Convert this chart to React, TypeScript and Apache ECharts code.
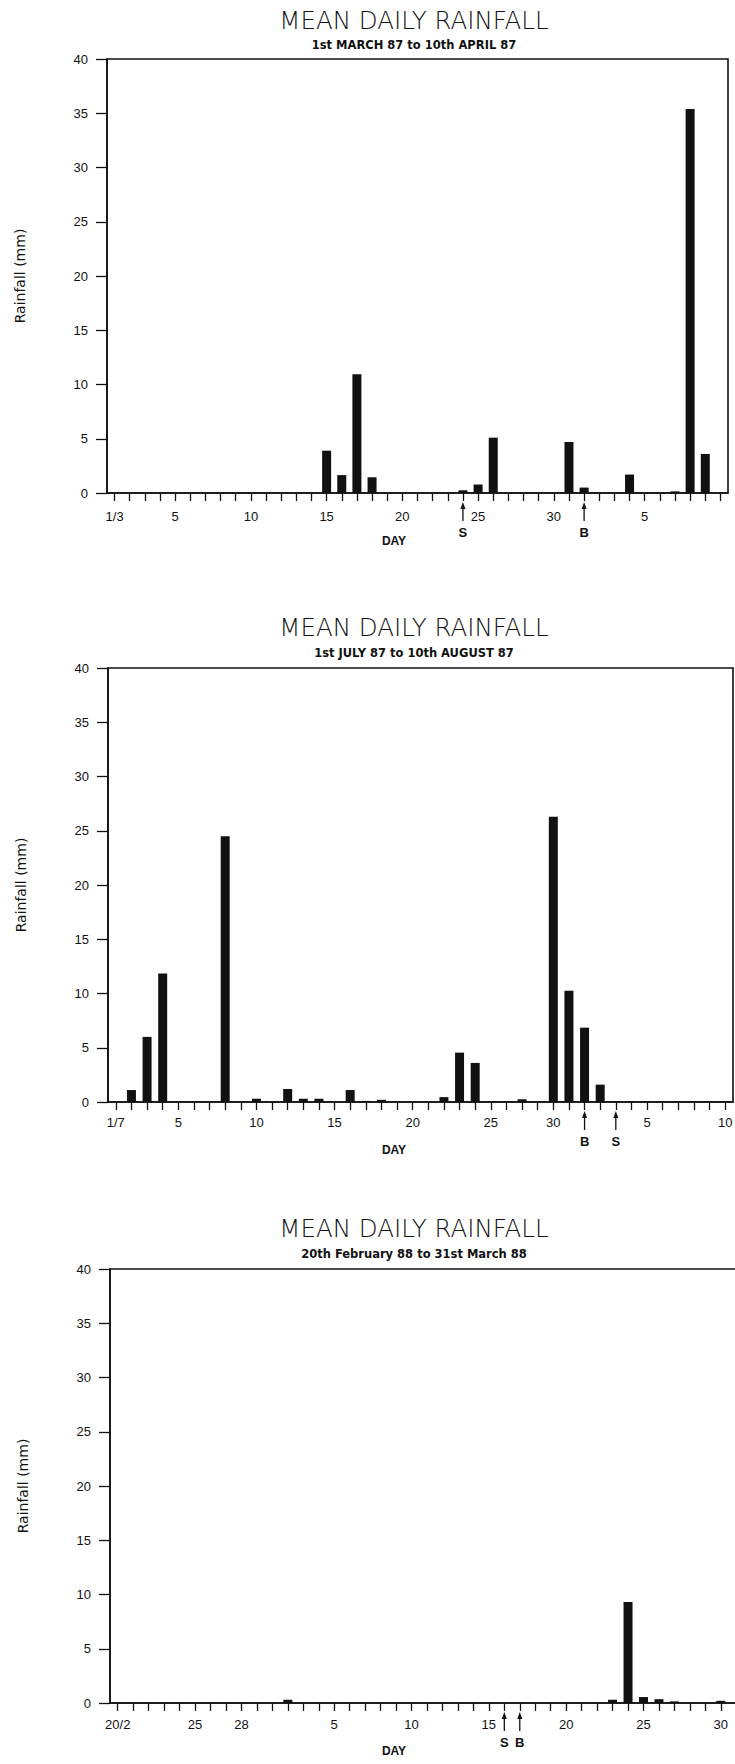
import React, { useEffect, useRef } from "react";
import * as echarts from "echarts";

// ---------- DATA ----------
const catsMarApr87 = [
  "1 Mar", "2 Mar", "3 Mar", "4 Mar", "5 Mar", "6 Mar", "7 Mar", "8 Mar", "9 Mar", "10 Mar",
  "11 Mar", "12 Mar", "13 Mar", "14 Mar", "15 Mar", "16 Mar", "17 Mar", "18 Mar", "19 Mar", "20 Mar",
  "21 Mar", "22 Mar", "23 Mar", "24 Mar", "25 Mar", "26 Mar", "27 Mar", "28 Mar", "29 Mar", "30 Mar",
  "31 Mar", "1 Apr", "2 Apr", "3 Apr", "4 Apr", "5 Apr", "6 Apr", "7 Apr", "8 Apr", "9 Apr", "10 Apr",
];
const rainMarApr87 = [
  0, 0, 0, 0, 0, 0, 0, 0, 0, 0, 0, 0, 0, 0, 3.9, 1.65, 10.95, 1.45, 0, 0,
  0, 0, 0, 0.25, 0.78, 5.1, 0, 0, 0, 0, 4.7, 0.5, 0, 0, 1.7, 0, 0, 0.15, 35.4, 3.6, 0,
];
const tickCatsMarApr87 = ["1 Mar", "5 Mar", "10 Mar", "15 Mar", "20 Mar", "25 Mar", "30 Mar", "5 Apr"];
const tickTextMarApr87 = ["1/3", "5", "10", "15", "20", "25", "30", "5"];
const markerCatsMarApr87 = ["24 Mar", "1 Apr"];
const markerTextMarApr87 = ["S", "B"];

const catsJulAug87 = [
  "1 Jul", "2 Jul", "3 Jul", "4 Jul", "5 Jul", "6 Jul", "7 Jul", "8 Jul", "9 Jul", "10 Jul",
  "11 Jul", "12 Jul", "13 Jul", "14 Jul", "15 Jul", "16 Jul", "17 Jul", "18 Jul", "19 Jul", "20 Jul",
  "21 Jul", "22 Jul", "23 Jul", "24 Jul", "25 Jul", "26 Jul", "27 Jul", "28 Jul", "29 Jul", "30 Jul",
  "31 Jul", "1 Aug", "2 Aug", "3 Aug", "4 Aug", "5 Aug", "6 Aug", "7 Aug", "8 Aug", "9 Aug",
];
const rainJulAug87 = [
  0, 1.1, 6.0, 11.85, 0, 0, 0, 24.5, 0, 0.3, 0, 1.2, 0.3, 0.3, 0, 1.1, 0.1, 0.2, 0, 0,
  0, 0.45, 4.55, 3.6, 0.05, 0.05, 0.25, 0, 26.3, 10.25, 6.85, 1.6, 0.05, 0.05, 0.05, 0.05, 0.05, 0.05, 0.05, 0.05,
];
const tickCatsJulAug87 = ["1 Jul", "5 Jul", "10 Jul", "15 Jul", "20 Jul", "25 Jul", "29 Jul", "4 Aug", "9 Aug"];
const tickTextJulAug87 = ["1/7", "5", "10", "15", "20", "25", "30", "5", "10"];
const markerCatsJulAug87 = ["31 Jul", "2 Aug"];
const markerTextJulAug87 = ["B", "S"];

const catsFebMar88 = [
  "20 Feb", "21 Feb", "22 Feb", "23 Feb", "24 Feb", "25 Feb", "26 Feb", "27 Feb", "28 Feb", "29 Feb",
  "1 Mar", "2 Mar", "3 Mar", "4 Mar", "5 Mar", "6 Mar", "7 Mar", "8 Mar", "9 Mar", "10 Mar",
  "11 Mar", "12 Mar", "13 Mar", "14 Mar", "15 Mar", "16 Mar", "17 Mar", "18 Mar", "19 Mar", "20 Mar",
  "21 Mar", "22 Mar", "23 Mar", "24 Mar", "25 Mar", "26 Mar", "27 Mar", "28 Mar", "29 Mar", "30 Mar", "31 Mar",
];
const rainFebMar88 = [
  0, 0, 0, 0, 0, 0, 0, 0, 0, 0, 0, 0.3, 0, 0, 0, 0, 0, 0, 0, 0,
  0, 0, 0, 0, 0, 0, 0, 0, 0, 0, 0, 0, 0.3, 9.3, 0.55, 0.35, 0.15, 0, 0, 0.2, 0,
];
const tickCatsFebMar88 = ["20 Feb", "25 Feb", "28 Feb", "5 Mar", "10 Mar", "15 Mar", "20 Mar", "25 Mar", "30 Mar"];
const tickTextFebMar88 = ["20/2", "25", "28", "5", "10", "15", "20", "25", "30"];
const markerCatsFebMar88 = ["16 Mar", "17 Mar"];
const markerTextFebMar88 = ["S", "B"];

const yTicks = [0, 5, 10, 15, 20, 25, 30, 35, 40];

const titles = ["MEAN DAILY RAINFALL", "MEAN DAILY RAINFALL", "MEAN DAILY RAINFALL"];
const subtitles = [
  "1st MARCH 87 to 10th APRIL 87",
  "1st JULY 87 to 10th AUGUST 87",
  "20th February 88 to 31st March 88",
];

// ---------- LAYOUT ----------
const panels = [
  { cats: catsMarApr87, rain: rainMarApr87, tc: tickCatsMarApr87, tt: tickTextMarApr87, mc: markerCatsMarApr87, mt: markerTextMarApr87, left: 107, top: 59, width: 621, titleY: 20, subY: 45, labelMargin: 17 },
  { cats: catsJulAug87, rain: rainJulAug87, tc: tickCatsJulAug87, tt: tickTextJulAug87, mc: markerCatsJulAug87, mt: markerTextJulAug87, left: 108, top: 668, width: 625, titleY: 627, subY: 653, labelMargin: 14 },
  { cats: catsFebMar88, rain: rainFebMar88, tc: tickCatsFebMar88, tt: tickTextFebMar88, mc: markerCatsFebMar88, mt: markerTextFebMar88, left: 110, top: 1269, width: 634, titleY: 1228, subY: 1254, labelMargin: 15 },
];
const PLOT_H = 434;
const TITLE_X = 414;
const INK = "#111";
const FONT = "Liberation Sans";

export default function App() {
  const ref = useRef<HTMLDivElement>(null);
  useEffect(() => {
    if (!ref.current) return;
    const chart = echarts.init(ref.current, null, { renderer: "svg" });
    const option: any = {
      animation: false,
      backgroundColor: "#fff",
      textStyle: { fontFamily: FONT, color: INK },
      grid: panels.map((p) => ({
        left: p.left,
        top: p.top,
        width: p.width,
        height: PLOT_H,
        show: true,
        borderColor: INK,
        borderWidth: 1.6,
        backgroundColor: "transparent",
        outerBoundsMode: "none",
        containLabel: false,
      })),
      xAxis: panels.map((p, i) => ({
        type: "category",
        gridIndex: i,
        data: p.cats,
        boundaryGap: true,
        axisLine: { show: true, lineStyle: { color: INK, width: 1.6 } },
        axisTick: { show: true, alignWithLabel: true, interval: 0, length: 8, inside: false, lineStyle: { color: INK, width: 1.3 } },
        axisLabel: {
          interval: 0,
          margin: p.labelMargin,
          fontSize: 13,
          fontFamily: FONT,
          color: INK,
          hideOverlap: false,
          formatter: (v: string) => {
            const k = p.tc.indexOf(v);
            return k >= 0 ? p.tt[k] : "";
          },
        },
        splitLine: { show: false },
      })),
      yAxis: panels.map((p, i) => ({
        type: "value",
        gridIndex: i,
        min: yTicks[0],
        max: yTicks[yTicks.length - 1],
        interval: 5,
        name: "Rainfall (mm)",
        nameLocation: "middle",
        nameRotate: 90,
        nameGap: 80,
        nameTextStyle: { fontSize: 14, fontFamily: "DejaVu Sans", color: INK },
        axisLine: { show: true, lineStyle: { color: INK, width: 1.6 } },
        axisTick: { show: true, length: 11, inside: false, lineStyle: { color: INK, width: 1.3 } },
        axisLabel: { margin: 19, fontSize: 13, fontFamily: FONT, color: INK },
        splitLine: { show: false },
      })),
      series: panels.map((p, i) => ({
        type: "bar",
        xAxisIndex: i,
        yAxisIndex: i,
        data: p.rain,
        barWidth: 9,
        silent: true,
        itemStyle: { color: INK },
      })),
    };
    chart.setOption(option);

    const g: any[] = [];
    panels.forEach((p, i) => {
      g.push({
        type: "text",
        x: TITLE_X,
        y: p.titleY,
        style: { text: titles[i], fontSize: 24.5, fontFamily: "DejaVu Sans", fontWeight: 200, fill: INK, align: "center", verticalAlign: "middle" },
      });
      g.push({
        type: "text",
        x: TITLE_X,
        y: p.subY,
        style: { text: subtitles[i], fontSize: 11.5, fontFamily: "DejaVu Sans", fontWeight: "bold", fill: INK, align: "center", verticalAlign: "middle" },
      });
      const base = chart.convertToPixel({ yAxisIndex: i } as any, 0) as number;
      g.push({
        type: "text",
        x: 394,
        y: base + 48,
        style: { text: "DAY", fontSize: 12, fontFamily: FONT, fontWeight: "bold", fill: INK, align: "center", verticalAlign: "middle" },
      });
      p.mc.forEach((c, k) => {
        const x = chart.convertToPixel({ xAxisIndex: i } as any, c) as number;
        g.push({
          type: "line",
          shape: { x1: x, y1: base + 13, x2: x, y2: base + 28 },
          style: { stroke: INK, lineWidth: 1.3 },
        });
        g.push({
          type: "polygon",
          shape: { points: [[x, base + 9], [x - 2.5, base + 16], [x + 2.5, base + 16]] },
          style: { fill: INK },
        });
        g.push({
          type: "text",
          x: x,
          y: base + 39,
          style: { text: p.mt[k], fontSize: 13, fontFamily: FONT, fontWeight: "bold", fill: INK, align: "center", verticalAlign: "middle" },
        });
      });
    });
    chart.setOption({ graphic: g });

    return () => chart.dispose();
  }, []);

  return <div ref={ref} style={{ position: "absolute", left: 0, top: 0, width: 735, height: 1764 }} />;
}
